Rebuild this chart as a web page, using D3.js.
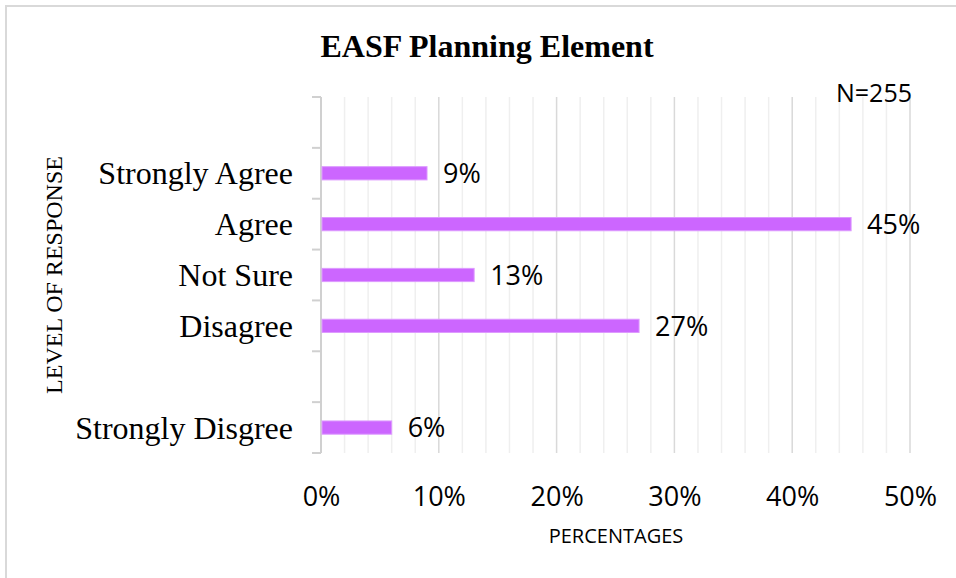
<!DOCTYPE html>
<html>
<head>
<meta charset="utf-8">
<script src="https://cdn.jsdelivr.net/npm/d3@7"></script>
<style>
  html, body { margin: 0; padding: 0; background: #fff; }
  svg { display: block; }
</style>
</head>
<body>
<svg id="chart" width="956" height="578"></svg>
<script>
// Response levels, top to bottom; empty strings are unlabeled spacer rows
const categories = ["", "Strongly Agree", "Agree", "Not Sure", "Disagree", "", "Strongly Disgree"];
// Share of respondents (%), null where a row has no bar
const values = [null, 9, 45, 13, 27, null, 6];
const xTicks = [0, 10, 20, 30, 40, 50];
const minorTicks = [2, 4, 6, 8, 12, 14, 16, 18, 22, 24, 26, 28, 32, 34, 36, 38, 42, 44, 46, 48];
const titleText = "EASF Planning Element";
const sampleNote = "N=255";
const xTitle = "PERCENTAGES";
const yTitle = "LEVEL OF RESPONSE";

const svg = d3.select("#chart");
const W = 956, H = 578;
const plot = { left: 321, right: 910, top: 97, bottom: 453 };

// outer frame
svg.append("path")
  .attr("d", `M6,${H} L6,6 L${W},6`)
  .attr("fill", "none")
  .attr("stroke", "#d9d9d9")
  .attr("stroke-width", 2);

const x = d3.scaleLinear().domain([0, 50]).range([plot.left, plot.right]);
const y = d3.scaleBand().domain(d3.range(categories.length)).range([plot.top, plot.bottom]).padding(0);

// minor gridlines
svg.append("g").selectAll("line").data(minorTicks).join("line")
  .attr("x1", d => x(d)).attr("x2", d => x(d))
  .attr("y1", plot.top).attr("y2", plot.bottom)
  .attr("stroke", "#efefef").attr("stroke-width", 1.5);

// major gridlines
svg.append("g").selectAll("line").data(xTicks.filter(d => d > 0)).join("line")
  .attr("x1", d => x(d)).attr("x2", d => x(d))
  .attr("y1", plot.top).attr("y2", plot.bottom)
  .attr("stroke", "#d9d9d9").attr("stroke-width", 1.5);

// vertical category axis with boundary ticks
const boundaries = d3.range(categories.length + 1).map(i => plot.top + i * y.step());
const yAxis = svg.append("g");
yAxis.append("line")
  .attr("x1", plot.left).attr("x2", plot.left)
  .attr("y1", plot.top).attr("y2", plot.bottom)
  .attr("stroke", "#d0d0d0").attr("stroke-width", 2);
yAxis.selectAll("line.tk").data(boundaries).join("line").attr("class", "tk")
  .attr("x1", plot.left - 9).attr("x2", plot.left)
  .attr("y1", d => d).attr("y2", d => d)
  .attr("stroke", "#d0d0d0").attr("stroke-width", 2);

// category labels
svg.append("g").selectAll("text").data(categories).join("text")
  .attr("x", 293)
  .attr("y", (d, i) => y(i) + y.bandwidth() / 2)
  .attr("dy", "0.35em")
  .attr("text-anchor", "end")
  .attr("font-family", "'Liberation Serif', 'Times New Roman', serif")
  .attr("font-size", 32)
  .attr("fill", "#000")
  .text(d => d);

// bars
const barH = y.bandwidth() * 0.26;
const rows = values.map((v, i) => ({ v, i })).filter(d => d.v !== null);
svg.append("g").selectAll("rect").data(rows).join("rect")
  .attr("x", x(0) + 1)
  .attr("y", d => y(d.i) + y.bandwidth() / 2 - barH / 2)
  .attr("width", d => x(d.v) - x(0) - 1)
  .attr("height", barH)
  .attr("fill", "#cc66ff")
  .attr("stroke", "#dd99ff")
  .attr("stroke-width", 1);

// value labels
svg.append("g").selectAll("text").data(rows).join("text")
  .attr("x", d => x(d.v) + 16)
  .attr("y", d => y(d.i) + y.bandwidth() / 2)
  .attr("dy", "0.36em")
  .attr("font-family", "'Open Sans', sans-serif")
  .attr("font-size", 27)
  .attr("fill", "#000")
  .text(d => d.v + "%");

// x axis labels
const xAxis = d3.axisBottom(x).tickValues(xTicks).tickFormat(d => d + "%").tickSize(0).tickPadding(0);
const gx = svg.append("g").attr("transform", `translate(0,${plot.bottom})`).call(xAxis);
gx.select(".domain").remove();
gx.selectAll("text")
  .attr("y", 53)
  .attr("dy", 0)
  .attr("font-family", "'Open Sans', sans-serif")
  .attr("font-size", 27)
  .attr("fill", "#000");

// title
svg.append("text")
  .attr("x", 487).attr("y", 57)
  .attr("text-anchor", "middle")
  .attr("font-family", "'Liberation Serif', 'Times New Roman', serif")
  .attr("font-weight", "bold")
  .attr("font-size", 32)
  .attr("fill", "#000")
  .text(titleText);

// sample size note
svg.append("text")
  .attr("x", 912).attr("y", 102)
  .attr("text-anchor", "end")
  .attr("font-family", "'Open Sans', sans-serif")
  .attr("font-size", 25)
  .attr("fill", "#000")
  .text(sampleNote);

// axis titles
svg.append("text")
  .attr("x", 616).attr("y", 543)
  .attr("text-anchor", "middle")
  .attr("font-family", "'Open Sans', sans-serif")
  .attr("font-size", 20)
  .attr("fill", "#000")
  .text(xTitle);

svg.append("text")
  .attr("transform", `translate(62,275) rotate(-90)`)
  .attr("text-anchor", "middle")
  .attr("font-family", "'Liberation Serif', 'Times New Roman', serif")
  .attr("font-size", 24)
  .attr("fill", "#000")
  .text(yTitle);
</script>
</body>
</html>
